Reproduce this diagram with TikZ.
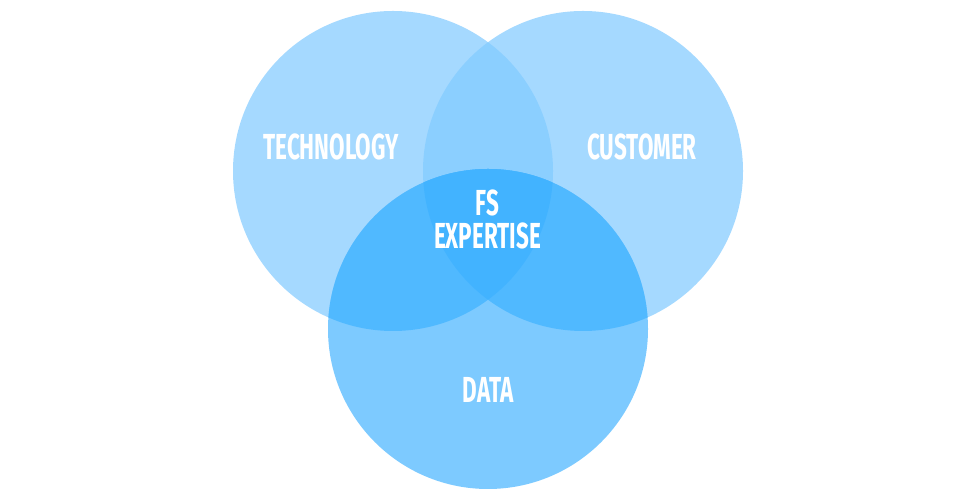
\documentclass[tikz,border=0pt]{standalone}
\usepackage{fontspec}
\setmainfont{Fira Sans}
\begin{document}
\begin{tikzpicture}
            \definecolor{cl1}{HTML}{A5D9FF}
            \definecolor{cl2}{HTML}{7DCAFF}
            \definecolor{cl3}{HTML}{8BCFFF}
            \definecolor{cl4}{HTML}{50B9FF}
            \definecolor{cl5}{HTML}{42B3FF}
            \tikzset{lbl/.style={text=white, font=\bfseries\fontsize{20.6}{18.8}\selectfont, align=center, inner sep=0pt, xscale=0.62, transform shape}}
            \useasboundingbox (0,0) rectangle (19.52,10);
            \coordinate (tech) at (7.86,6.58);
            \coordinate (cust) at (11.66,6.58);
            \coordinate (data) at (9.76,3.42);
            \fill[cl1] (tech) circle (3.2cm);
            \fill[cl1] (cust) circle (3.2cm);
            \fill[cl2] (data) circle (3.2cm);
            \begin{scope}
                \clip (tech) circle (3.2cm);
                \fill[cl3] (cust) circle (3.2cm);
            \end{scope}
            \begin{scope}
                \clip (data) circle (3.2cm);
                \fill[cl4] (tech) circle (3.2cm);
                \fill[cl4] (cust) circle (3.2cm);
                \clip (tech) circle (3.2cm);
                \fill[cl5] (cust) circle (3.2cm);
            \end{scope}
            \node[lbl] (techlbl) at (6.62,7.07) {TECHNOLOGY};
            \node[lbl] (custlbl) at (12.84,7.07) {CUSTOMER};
            \node[lbl] (fslbl) at (9.75,5.62) {FS\\EXPERTISE};
            \node[lbl] (datalbl) at (9.76,2.20) {DATA};
        \end{tikzpicture}
\end{document}
